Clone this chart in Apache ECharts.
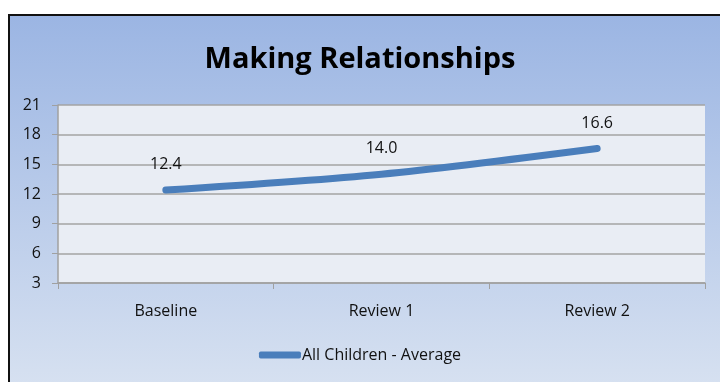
<!DOCTYPE html>
<html>
<head>
<meta charset="utf-8">
<script src="https://cdn.jsdelivr.net/npm/echarts@6/dist/echarts.min.js"></script>
<style>
html,body{margin:0;padding:0;background:#ffffff;}
#c{width:720px;height:382px;}
</style>
</head>
<body>
<div id="c"></div>
<script>
const titleText = "Making Relationships";
const categories = ["Baseline", "Review 1", "Review 2"];
const seriesName = "All Children - Average";
const values = [12.4, 14.0, 16.6];
const yTicks = {min: 3, max: 21, interval: 3};

const FONT = "'Open Sans', sans-serif";
const chart = echarts.init(document.getElementById('c'), null, {renderer: 'canvas'});
chart.setOption({
  backgroundColor: '#ffffff',
  animation: false,
  graphic: [{
    type: 'rect', z: -10, silent: true,
    shape: {x: 9, y: 15, width: 720, height: 380},
    style: {
      fill: new echarts.graphic.LinearGradient(0, 0, 0, 1, [
        {offset: 0, color: '#9bb5e3'},
        {offset: 1, color: '#d8e2f1'}
      ]),
      stroke: '#111111', lineWidth: 2
    }
  }],
  title: {
    text: titleText, left: 'center', top: 40,
    textStyle: {fontFamily: FONT, fontWeight: 'bold', fontSize: 29, color: '#000000'}
  },
  legend: {
    bottom: 14, left: 'center',
    itemWidth: 42, itemHeight: 7, itemGap: 0,
    icon: 'roundRect',
    textStyle: {fontFamily: FONT, fontSize: 16, color: '#111111', padding: [0,0,0,-4]},
    data: [seriesName]
  },
  grid: {left: 58, right: 15, top: 105, bottom: 99, show: true, backgroundColor: '#e9edf4', borderWidth: 0},
  xAxis: {
    type: 'category', data: categories, boundaryGap: true,
    axisLine: {lineStyle: {color: '#a0a0a0', width: 1.5}},
    axisTick: {show: true, length: 6, lineStyle: {color: '#a0a0a0'}},
    axisLabel: {fontFamily: FONT, fontSize: 16, color: '#111111', margin: 20}
  },
  yAxis: {
    type: 'value', min: yTicks.min, max: yTicks.max, interval: yTicks.interval,
    axisLine: {show: true, lineStyle: {color: '#a0a0a0', width: 1.5}},
    axisTick: {show: true, length: 6, lineStyle: {color: '#a0a0a0'}},
    splitLine: {lineStyle: {color: '#a3a3a3', width: 1.5}},
    axisLabel: {fontFamily: FONT, fontSize: 16, color: '#111111', margin: 17}
  },
  series: [{
    name: seriesName, type: 'line', data: values,
    smooth: 0.3,
    symbol: 'circle', symbolSize: 1,
    itemStyle: {color: '#4a7ebb'},
    lineStyle: {color: '#4a7ebb', width: 7, cap: 'round'},
    label: {
      show: true, position: 'top', distance: 17,
      fontFamily: FONT, fontSize: 16, color: '#111111',
      formatter: p => p.value.toFixed(1)
    }
  }]
});
</script>
</body>
</html>
